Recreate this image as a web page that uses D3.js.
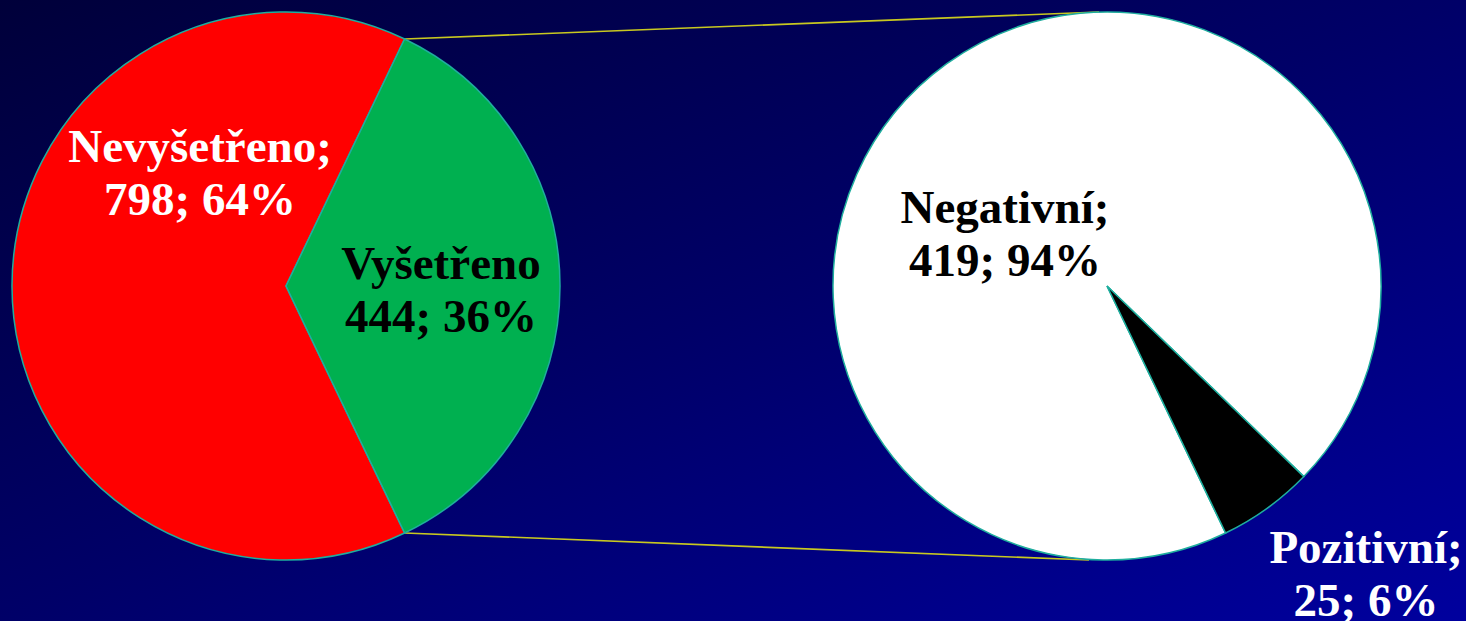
<!DOCTYPE html>
<html>
<head>
<meta charset="utf-8">
<script src="https://cdn.jsdelivr.net/npm/d3@7"></script>
<style>
	html, body { margin: 0; padding: 0; overflow: hidden; }
	#___pie_of_pie { width: 1466px; height: 621px; }
</style>
</head>
<body>
<div id="___pie_of_pie"></div>
<script>
// Hauptkreis
var main_categories = ["Nevyšetřeno", "Vyšetřeno"];
var main_values = [798, 444];
var main_percent = ["64%", "36%"];

// Zweiter Kreis (Aufteilung von "Vyšetřeno")
var sub_categories = ["Negativní", "Pozitivní"];
var sub_values = [419, 25];
var sub_percent = ["94%", "6%"];

var width = 1466,
	height = 621;

var svg = d3.select("#___pie_of_pie")
	.append("svg")
	.attr("width", width)
	.attr("height", height);

var defs = svg.append("defs");
var grad = defs.append("linearGradient")
	.attr("id", "bg")
	.attr("x1", 0).attr("y1", 0)
	.attr("x2", 1).attr("y2", 1);
grad.append("stop").attr("offset", "0%").attr("stop-color", "#00003a");
grad.append("stop").attr("offset", "50%").attr("stop-color", "#000068");
grad.append("stop").attr("offset", "100%").attr("stop-color", "#00009e");

svg.append("rect")
	.attr("width", width)
	.attr("height", height)
	.attr("fill", "url(#bg)");

var r = 274;
var c1 = [286, 286],
	c2 = [1107, 286];

// green slice centred on the right side of the first pie
var greenShare = main_values[1] / d3.sum(main_values);
var start = Math.PI / 2 + greenShare * Math.PI;

var pie1 = d3.pie().sort(null).startAngle(start).endAngle(start + 2 * Math.PI);
var pie2 = d3.pie().sort(null).startAngle(start).endAngle(start + 2 * Math.PI);

var arc = d3.arc().innerRadius(0).outerRadius(r);

var color1 = d3.scaleOrdinal().domain(main_categories).range(["#ff0000", "#00b050"]);
var color2 = d3.scaleOrdinal().domain(sub_categories).range(["#ffffff", "#000000"]);

var data1 = pie1(main_values);
var data2 = pie2(sub_values);

// Verbindungslinien
var g_lines = svg.append("g");
var pTop = d3.pointRadial(data1[1].startAngle, r),
	pBot = d3.pointRadial(data1[1].endAngle, r);
g_lines.append("line")
	.attr("x1", c1[0] + pTop[0]).attr("y1", c1[1] + pTop[1])
	.attr("x2", c2[0] - 8).attr("y2", c2[1] - r)
	.attr("stroke", "#c8c820").attr("stroke-width", 1.6);
g_lines.append("line")
	.attr("x1", c1[0] + pBot[0]).attr("y1", c1[1] + pBot[1])
	.attr("x2", c2[0] - 18).attr("y2", c2[1] + r)
	.attr("stroke", "#c8c820").attr("stroke-width", 1.6);

var g1 = svg.append("g").attr("transform", "translate(" + c1 + ")");
g1.selectAll("path")
	.data(data1)
	.enter()
	.append("path")
	.attr("d", arc)
	.attr("fill", function (d, i) { return color1(main_categories[i]); })
	.attr("stroke", "#1fae9e")
	.attr("stroke-width", 1.5);

var g2 = svg.append("g").attr("transform", "translate(" + c2 + ")");
g2.selectAll("path")
	.data(data2)
	.enter()
	.append("path")
	.attr("d", arc)
	.attr("fill", function (d, i) { return color2(sub_categories[i]); })
	.attr("stroke", "#1fae9e")
	.attr("stroke-width", 1.5);

// Beschriftungen: [dx, dy der ersten Grundlinie relativ zum Kreismittelpunkt, Farbe]
var lh = 53;
function addLabel(g, pos, line1, line2, fill) {
	var t = g.append("text")
		.attr("text-anchor", "middle")
		.attr("font-family", "'Liberation Serif', 'Times New Roman', serif")
		.attr("font-weight", "bold")
		.attr("font-size", 47)
		.attr("fill", fill);
	t.append("tspan").attr("x", pos[0]).attr("y", pos[1]).text(line1);
	t.append("tspan").attr("x", pos[0]).attr("y", pos[1] + lh).text(line2);
}

addLabel(g1, [-86, -124], main_categories[0] + ";", main_values[0] + "; " + main_percent[0], "#ffffff");
addLabel(g1, [155, -7], main_categories[1], main_values[1] + "; " + main_percent[1], "#000000");
addLabel(g2, [-102, -63], sub_categories[0] + ";", sub_values[0] + "; " + sub_percent[0], "#000000");
addLabel(g2, [259, 277], sub_categories[1] + ";", sub_values[1] + "; " + sub_percent[1], "#ffffff");
</script>
</body>
</html>
